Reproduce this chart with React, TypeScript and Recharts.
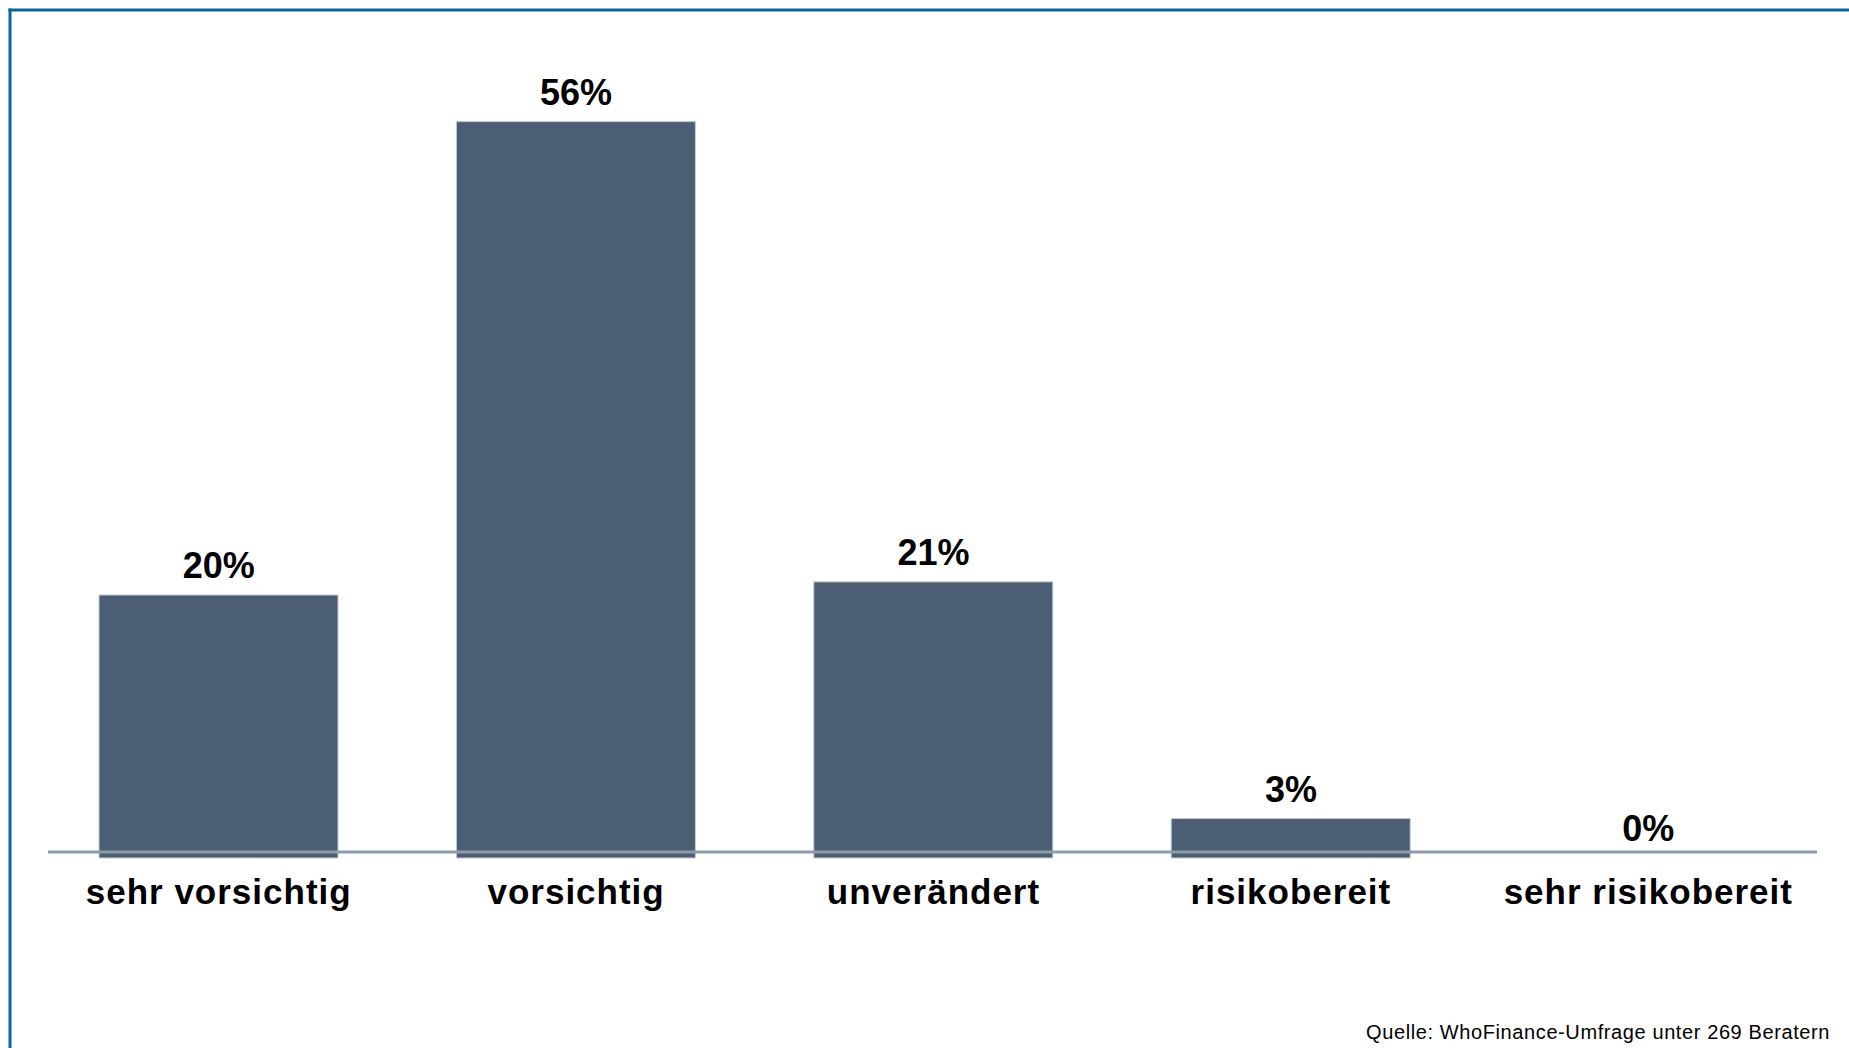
import React from 'react';
import { ComposedChart, Bar, Line, XAxis, YAxis, LabelList } from 'recharts';

const categories = ['sehr vorsichtig', 'vorsichtig', 'unverändert', 'risikobereit', 'sehr risikobereit'];
const shares = [20, 56, 21, 3, 0];
const valueLabels = ['20%', '56%', '21%', '3%', '0%'];
const sourceNote = 'Quelle: WhoFinance-Umfrage unter 269 Beratern';

const data = categories.map((c, i) => ({ category: c, value: shares[i], label: valueLabels[i] }));

const FONT = '"Liberation Sans", Arial, Helvetica, sans-serif';
const W = 1849;
const H = 1048;

const CategoryTick = (props: any) => {
  const { x, y, payload } = props;
  return (
    <text
      x={x}
      y={y + 46}
      textAnchor="middle"
      fontFamily={FONT}
      fontWeight={700}
      fontSize={35}
      letterSpacing={1}
      fill="#000"
    >
      {payload.value}
    </text>
  );
};

export default function App() {
  return (
    <div
      style={{
        position: 'absolute',
        left: 0,
        top: 0,
        width: W,
        height: H,
        overflow: 'hidden',
        background: '#fff',
      }}
    >
      <ComposedChart
        width={W}
        height={H}
        data={data}
        margin={{ top: 69, right: 32, bottom: 160, left: 48 }}
        style={{ position: 'absolute', left: 0, top: 0 }}
      >
        <YAxis hide domain={[0, 60]} />
        <XAxis
          dataKey="category"
          height={30}
          tickSize={0}
          tickMargin={0}
          tickLine={false}
          padding={{ left: -8, right: -10 }}
          axisLine={{ stroke: '#8d9cab', strokeWidth: 3, transform: 'translate(0,-6)' }}
          tick={<CategoryTick />}
          interval={0}
        />
        <Bar
          dataKey="value"
          fill="#4c5e73"
          stroke="#c4cbd2"
          strokeWidth={1}
          barSize={239}
          isAnimationActive={false}
        />
        <Line
          dataKey="value"
          stroke="none"
          dot={false}
          activeDot={false}
          isAnimationActive={false}
        >
          <LabelList
            dataKey="label"
            position="top"
            offset={17}
            fontFamily={FONT}
            fontWeight={700}
            fontSize={36}
            fill="#000"
          />
        </Line>
      </ComposedChart>
      <svg
        width={W}
        height={H}
        style={{ position: 'absolute', left: 0, top: 0, pointerEvents: 'none' }}
      >
        <line x1={10} y1={8.5} x2={10} y2={H} stroke="#0a64a0" strokeWidth={3} />
        <line x1={8.5} y1={10} x2={W} y2={10} stroke="#0a64a0" strokeWidth={3} />
        <text
          x={1830}
          y={1039}
          textAnchor="end"
          fontFamily={FONT}
          fontSize={20}
          letterSpacing={0.6}
          fill="#000"
        >
          {sourceNote}
        </text>
      </svg>
    </div>
  );
}
